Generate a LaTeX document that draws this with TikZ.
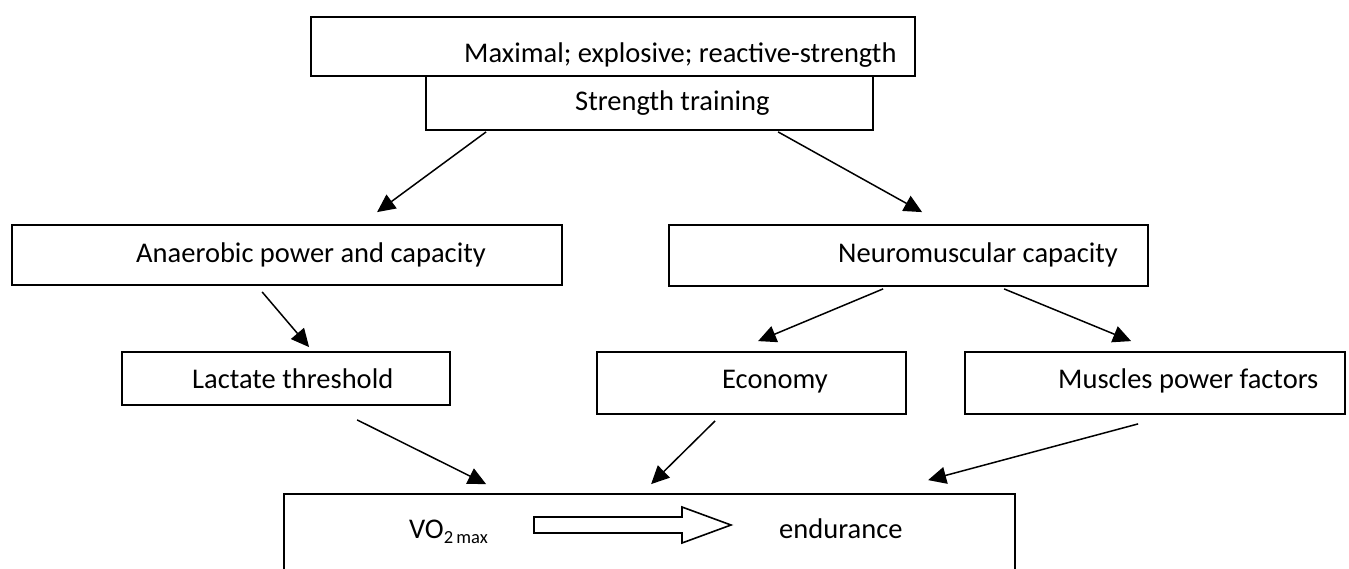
\documentclass[tikz,border=0pt]{standalone}
\usepackage{fontspec}
\setmainfont{Carlito}
\usetikzlibrary{arrows.meta,calc}
\begin{document}
\begin{tikzpicture}[x=1pt,y=-1pt,
  box/.style={draw=black,line width=1.8pt,rectangle,inner sep=0pt,fill=white},
  lbl/.style={anchor=base west,inner sep=0pt,font=\fontsize{28.5}{34}\selectfont},
  arr/.style={draw=black,line width=1.5pt,-{Triangle[length=18pt,width=17pt]}}]
\useasboundingbox (0,0) rectangle (1349,568);
\fill[white] (0,0) rectangle (1349,568);
\clip (0,0) rectangle (1349,568);
% boxes
\node[box,minimum width=604pt,minimum height=59pt] (top) at (613,46.5) {};
\node[box,minimum width=447pt,minimum height=54pt] (strength) at (649.5,103) {};
\node[box,minimum width=550pt,minimum height=60pt] (anaer) at (287,255) {};
\node[box,minimum width=479pt,minimum height=61pt] (neuro) at (908.5,255.5) {};
\node[box,minimum width=328pt,minimum height=53pt] (lact) at (286,378.5) {};
\node[box,minimum width=309pt,minimum height=62pt] (econ) at (751.5,383) {};
\node[box,minimum width=380pt,minimum height=62pt] (musc) at (1155,383) {};
\node[box,minimum width=731pt,minimum height=120pt] (bottom) at (649.5,554) {};
% labels
\node[lbl] (ttop) at (464,62) {Maximal; explosive; reactive-strength};
\node[lbl] (tstrength) at (575,110) {Strength training};
\node[lbl] (tanaer) at (136,262) {Anaerobic power and capacity};
\node[lbl] (tneuro) at (838,262) {Neuromuscular capacity};
\node[lbl] (tlact) at (192,388) {Lactate threshold};
\node[lbl] (tecon) at (722,388) {Economy};
\node[lbl] (tmusc) at (1058,388) {Muscles power factors};
\node[lbl] (tvo) at (409,538) {VO{\fontsize{18.5}{20}\selectfont\raisebox{-5pt}{2\,max}}};
\node[lbl] (tend) at (779,538) {endurance};
% block arrow
\draw[line width=1.6pt,fill=white] (534,517) -- (682,517) -- (682,507) -- (731,525)
  -- (682,543) -- (682,533) -- (534,533) -- cycle;
% connectors
\draw[arr] ($(strength.south west)+(61,1)$) -- ($(anaer.north west)+(366,-12)$);
\draw[arr] ($(strength.south west)+(353,1)$) -- ($(neuro.north west)+(254,-12)$);
\draw[arr] ($(anaer.south west)+(251,6)$) -- ($(lact.north west)+(188,-4)$);
\draw[arr] ($(neuro.south west)+(215,2)$) -- ($(econ.north west)+(162,-10)$);
\draw[arr] ($(neuro.south west)+(336,2)$) -- ($(musc.north west)+(167,-10)$);
\draw[arr] ($(lact.south west)+(236,14)$) -- ($(bottom.north west)+(203,-9)$);
\draw[arr] ($(econ.south west)+(119,6)$) -- ($(bottom.north west)+(368,-9)$);
\draw[arr] ($(musc.south west)+(174,9)$) -- ($(bottom.north west)+(645,-13)$);
\end{tikzpicture}
\end{document}
